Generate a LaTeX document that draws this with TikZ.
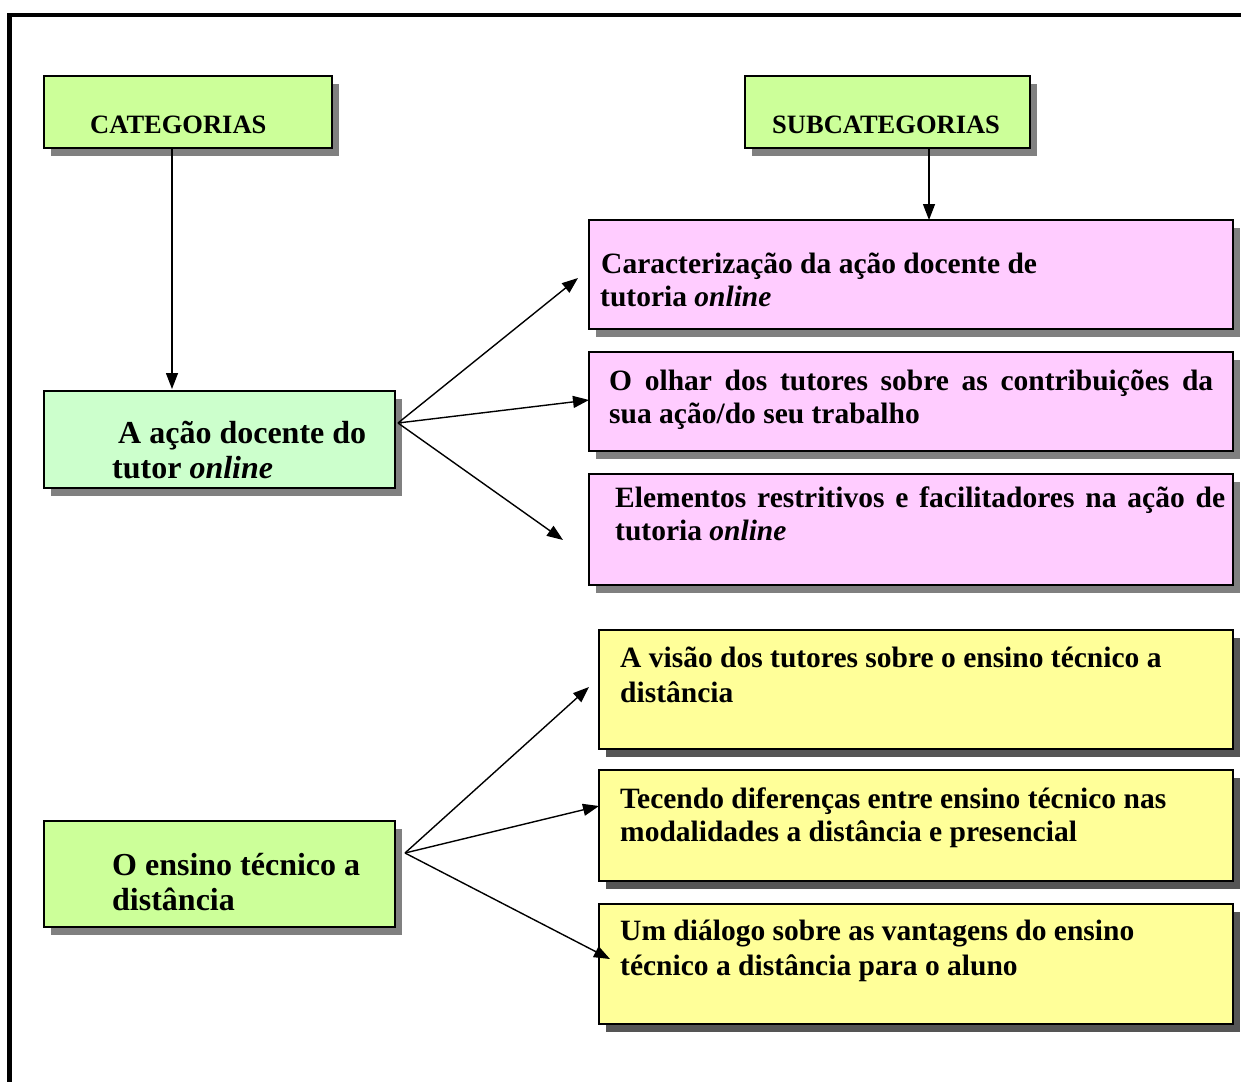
\documentclass[tikz,border=0pt]{standalone}
\usepackage{fontspec}
\setmainfont{Liberation Serif}[BoldFont={Liberation Serif Bold},ItalicFont={Liberation Serif Italic},BoldItalicFont={Liberation Serif Bold Italic}]
\usetikzlibrary{arrows.meta,shadows}
\definecolor{catgreen}{HTML}{CCFF99}
\definecolor{palegreen}{HTML}{CCFFCC}
\definecolor{pinkbox}{HTML}{FFCCFF}
\definecolor{yellowbox}{HTML}{FFFF99}
\definecolor{shadowgray}{HTML}{808080}
\definecolor{darkshadow}{HTML}{555555}
\newcommand{\mkbox}[7]{%
  \node[boxstyle, fill=#6, drop shadow={shadow xshift=7pt, shadow yshift=-8pt, fill=#7, opacity=1},
        minimum width=#4pt-#2pt, minimum height=#5pt-#3pt] (#1) at (#2,#3) {};}
\begin{document}
\begin{tikzpicture}[x=1pt,y=-1pt,
  boxstyle/.style={draw=black, line width=1.3pt, rectangle, inner sep=0pt, outer sep=0pt, anchor=north west},
  txt/.style={anchor=base west, inner sep=0pt, font=\fontsize{29.5}{35}\selectfont\bfseries},
  cattxt/.style={anchor=base west, inner sep=0pt, font=\fontsize{32}{38}\selectfont\bfseries},
  headtxt/.style={anchor=base west, inner sep=0pt, font=\fontsize{26.5}{32}\selectfont\bfseries},
  conn/.style={line width=1.4pt, -{Triangle[length=16pt,width=12pt]}}]
\useasboundingbox (0,0) rectangle (1241,1081);
\fill[white] (0,0) rectangle (1241,1081);
% outer frame
\draw[line width=4.5pt] (9.5,1095) -- (9.5,15) -- (1255,15);

% boxes
\mkbox{cat}{44}{76}{332}{148}{catgreen}{shadowgray}
\mkbox{sub}{745}{76}{1030}{148}{catgreen}{shadowgray}
\mkbox{s1}{589}{220}{1233}{329}{pinkbox}{shadowgray}
\mkbox{s2}{589}{352}{1233}{451}{pinkbox}{shadowgray}
\mkbox{s3}{589}{474}{1233}{585}{pinkbox}{shadowgray}
\mkbox{c1}{44}{391}{395}{488}{palegreen}{shadowgray}
\mkbox{s4}{599}{630}{1233}{749}{yellowbox}{darkshadow}
\mkbox{s5}{599}{770}{1233}{881}{yellowbox}{darkshadow}
\mkbox{s6}{599}{904}{1233}{1024}{yellowbox}{darkshadow}
\mkbox{c2}{44}{821}{395}{927}{catgreen}{shadowgray}

% texts
\node[headtxt] (tcat) at (90,133) {CATEGORIAS};
\node[headtxt] (tsub) at (772,133) {SUBCATEGORIAS};
\node[txt] (t1a) at (601,273) {Caracterização da ação docente de};
\node[txt] (t1b) at (600,306) {tutoria \textit{online}};
\node[txt] (t2a) at (609,390) {\makebox[604pt][s]{O olhar dos tutores sobre as contribuições da}};
\node[txt] (t2b) at (609,423) {sua ação/do seu trabalho};
\node[txt] (t3a) at (615,507) {\makebox[610pt][s]{Elementos restritivos e facilitadores na ação de}};
\node[txt] (t3b) at (615,540) {tutoria \textit{online}};
\node[cattxt] (tc1a) at (118,443) {A ação docente do};
\node[cattxt] (tc1b) at (112,478) {tutor \textit{online}};
\node[txt] (t4a) at (620,667) {A visão dos tutores sobre o ensino técnico a};
\node[txt] (t4b) at (620,702) {distância};
\node[txt] (t5a) at (620,808) {Tecendo diferenças entre ensino técnico nas};
\node[txt] (t5b) at (620,841) {modalidades a distância e presencial};
\node[txt] (t6a) at (620,940) {Um diálogo sobre as vantagens do ensino};
\node[txt] (t6b) at (620,975) {técnico a distância para o aluno};
\node[cattxt] (tc2a) at (112,875) {O ensino técnico a};
\node[cattxt] (tc2b) at (112,910) {distância};

% connector points
\coordinate (catout) at (172,148);
\coordinate (c1in) at (172,389);
\coordinate (subout) at (929,148);
\coordinate (s1top) at (929,220);
\coordinate (c1out) at (398,423);
\coordinate (p1) at (578,278);
\coordinate (p2) at (589,400);
\coordinate (p3) at (563,540);
\coordinate (c2out) at (405,853);
\coordinate (q1) at (589,687);
\coordinate (q2) at (599,806);
\coordinate (q3) at (610,959);

\draw[conn] (catout) -- (c1in);
\draw[conn] (subout) -- (s1top);
\draw[conn] (c1out) -- (p1);
\draw[conn] (c1out) -- (p2);
\draw[conn] (c1out) -- (p3);
\draw[conn] (c2out) -- (q1);
\draw[conn] (c2out) -- (q2);
\draw[conn] (c2out) -- (q3);
\end{tikzpicture}
\end{document}
